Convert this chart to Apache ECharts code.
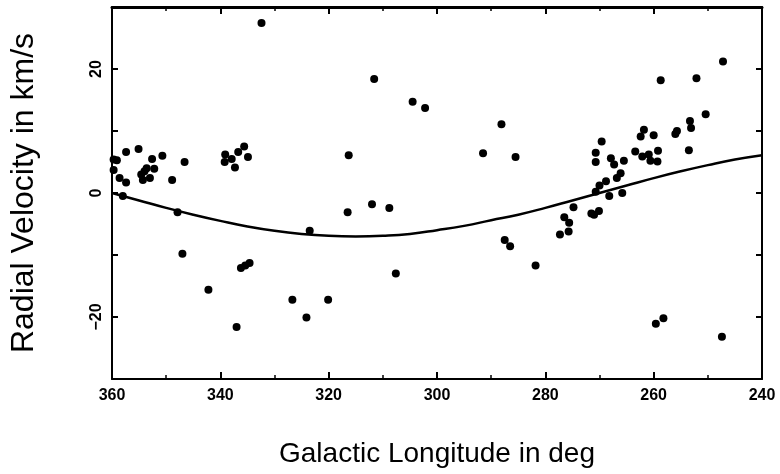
<!DOCTYPE html>
<html>
<head>
<meta charset="utf-8">
<script src="https://cdn.jsdelivr.net/npm/echarts@6/dist/echarts.min.js"></script>
<style>
html,body{margin:0;padding:0;background:#fff;}
#chart{width:780px;height:474px;}
</style>
</head>
<body>
<div id="chart"></div>
<script>
// Galactic longitude (deg), radial velocity (km/s) for each star
const stars = [
  [359.7,5.4],[359.1,5.3],[359.7,3.7],[358.6,2.4],[357.4,1.7],[357.4,6.6],[355.1,7.1],[358.0,-0.5],
  [354.6,3.0],[354.0,3.5],[353.6,4.0],[354.3,2.1],[353.0,2.4],[352.2,3.9],[352.6,5.5],[350.7,6.0],
  [348.9,2.1],[346.6,5.0],[347.9,-3.1],[347.0,-9.8],
  [339.1,6.2],[339.2,5.0],[337.9,5.5],[337.3,4.1],[336.7,6.6],[335.6,7.5],[334.9,5.8],
  [332.4,27.4],[342.2,-15.6],[337.0,-21.6],[336.2,-12.1],[335.4,-11.7],[334.6,-11.3],
  [326.7,-17.2],[324.1,-20.1],[323.5,-6.1],[320.1,-17.2],
  [316.3,6.1],[316.5,-3.1],[312.0,-1.8],[311.6,18.4],[308.8,-2.4],[307.6,-13.0],[304.5,14.7],[302.2,13.7],
  [291.5,6.4],[288.1,11.1],[287.5,-7.6],[286.5,-8.6],[285.5,5.8],[281.8,-11.7],
  [277.3,-6.7],[276.5,-3.9],[275.6,-4.8],[275.7,-6.2],[274.8,-2.3],[271.5,-3.3],[271.0,-3.5],[270.1,-2.9],
  [270.7,0.2],[270.0,1.2],[268.8,1.9],[268.2,-0.5],[265.8,0.0],[266.8,2.4],[266.1,3.2],
  [269.6,8.3],[270.7,6.5],[270.7,5.0],[267.9,5.6],[267.3,4.6],[265.5,5.2],[263.4,6.7],[262.1,5.9],
  [260.9,6.2],[260.6,5.2],[259.2,6.8],[259.3,5.1],
  [261.8,10.2],[262.4,9.1],[260.0,9.3],[258.7,18.2],[255.7,10.0],[256.0,9.5],[253.3,11.6],[253.1,10.5],
  [253.5,6.9],[250.4,12.7],[252.1,18.5],[247.2,21.2],
  [259.6,-21.1],[258.2,-20.2],[247.4,-23.2]
];

// Model rotation curve, every 5 degrees
const curveLon = [360,355,350,345,340,335,330,325,320,315,310,305,300,295,290,285,280,275,270,265,260,255,250,245,240];
const curveVel = [0,-1.2,-2.4,-3.5,-4.5,-5.4,-6.1,-6.6,-6.9,-7.0,-6.9,-6.6,-6.0,-5.3,-4.4,-3.5,-2.4,-1.2,0,1.2,2.4,3.5,4.5,5.4,6.1];

const xTicks = [360,340,320,300,280,260,240];
const yTicks = [-20,0,20];

const xTitle = 'Galactic Longitude in deg';
const yTitle = 'Radial Velocity in km/s';

const curve = curveLon.map((l,i)=>[l,curveVel[i]]);

const chart = echarts.init(document.getElementById('chart'), null, {renderer:'canvas'});
const tickFont = {fontFamily:'Liberation Sans, Arial, sans-serif', fontWeight:'bold', fontSize:16, color:'#000'};

const baseX = {
  type:'value', min:240, max:360, interval:20, inverse:true,
  axisLine:{show:true, onZero:false, lineStyle:{color:'#000', width:2}},
  axisTick:{show:true, inside:true, length:7, lineStyle:{color:'#000', width:2}},
  minorTick:{show:true, splitNumber:2, length:4, lineStyle:{color:'#000', width:1.5}},
  splitLine:{show:false}
};
const baseY = {
  type:'value', min:-30, max:30, interval:10,
  axisLine:{show:true, onZero:false, lineStyle:{color:'#000', width:2}},
  axisTick:{show:true, inside:true, length:6, lineStyle:{color:'#000', width:2}},
  minorTick:{show:false},
  splitLine:{show:false}
};

chart.setOption({
  backgroundColor:'#fff',
  animation:false,
  grid:{left:108, right:18, top:7, bottom:95},
  xAxis:[
    Object.assign({}, baseX, {
      position:'bottom',
      axisLabel:Object.assign({margin:9, formatter:v=> xTicks.includes(v)? String(v):''}, tickFont),
      name:xTitle, nameLocation:'middle', nameGap:61,
      nameTextStyle:{fontFamily:'Liberation Sans, Arial, sans-serif', fontSize:28, color:'#000'}
    }),
    Object.assign({}, baseX, {
      position:'top', axisLabel:{show:false},
      axisLine:{show:true, onZero:false, lineStyle:{color:'#000', width:3}}
    })
  ],
  yAxis:[
    Object.assign({}, baseY, {
      position:'left',
      axisLabel:Object.assign({margin:7, rotate:90,
        formatter:v=> yTicks.includes(v)? String(v).replace('-','\u2212') : ''}, tickFont),
      name:yTitle, nameLocation:'middle', nameGap:72,
      nameTextStyle:{fontFamily:'Liberation Sans, Arial, sans-serif', fontSize:32, color:'#000'}
    }),
    Object.assign({}, baseY, {position:'right', axisLabel:{show:false}})
  ],
  series:[
    {
      type:'line', data:curve, smooth:true, showSymbol:false, symbol:'none',
      lineStyle:{color:'#000', width:2.5}, z:2
    },
    {
      type:'scatter', data:stars, symbol:'circle', symbolSize:8,
      itemStyle:{color:'#000', opacity:1}, z:3
    }
  ]
});
</script>
</body>
</html>
